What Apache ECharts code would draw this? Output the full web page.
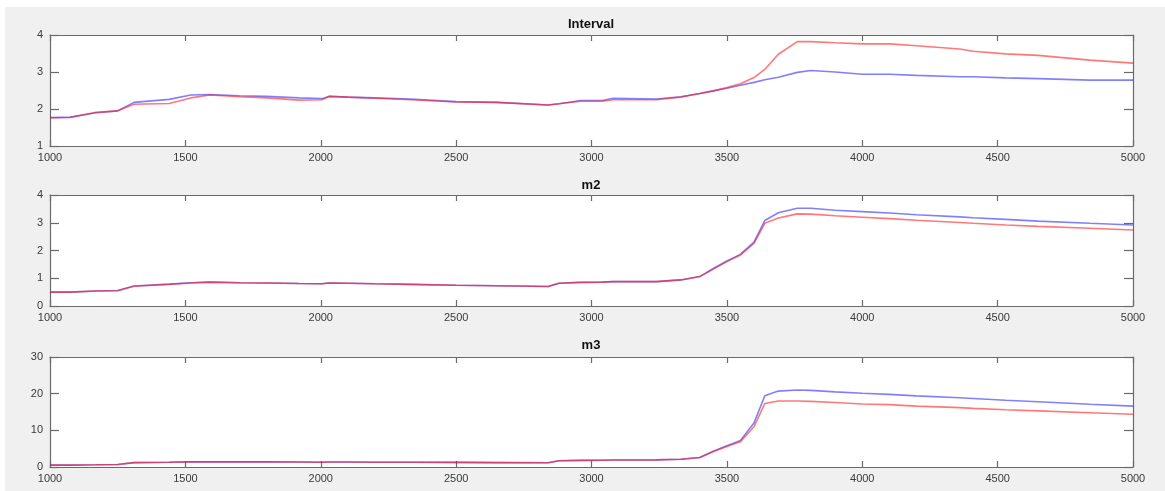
<!DOCTYPE html>
<html>
<head>
<meta charset="utf-8">
<script src="https://cdn.jsdelivr.net/npm/echarts@6/dist/echarts.min.js"></script>
<style>
html,body{margin:0;padding:0;background:#fff;width:1165px;height:491px;overflow:hidden;}
#c{position:absolute;left:5px;top:7px;width:1160px;height:484px;background:#f0f0f0;}
</style>
</head>
<body>
<div id="c"></div>
<script>
const xs = [1000,1075,1170,1250,1310,1440,1520,1590,1700,1800,1920,2005,2030,2100,2200,2330,2500,2650,2840,2880,2960,3040,3080,3240,3330,3400,3450,3500,3550,3600,3640,3690,3760,3810,3900,4000,4100,4200,4360,4410,4530,4650,4840,5000];

const intervalBlue = [1.77,1.78,1.90,1.95,2.18,2.26,2.38,2.39,2.36,2.34,2.30,2.28,2.34,2.32,2.30,2.27,2.20,2.18,2.11,2.14,2.23,2.23,2.29,2.27,2.33,2.42,2.49,2.56,2.64,2.72,2.79,2.86,2.99,3.04,3.00,2.94,2.94,2.91,2.87,2.87,2.84,2.82,2.78,2.78];
const intervalRed  = [1.76,1.77,1.91,1.95,2.13,2.15,2.30,2.38,2.33,2.30,2.24,2.25,2.34,2.32,2.29,2.25,2.19,2.18,2.11,2.14,2.21,2.21,2.25,2.25,2.32,2.42,2.49,2.58,2.68,2.85,3.07,3.48,3.82,3.82,3.79,3.76,3.76,3.71,3.62,3.56,3.49,3.45,3.32,3.24];

const m2Blue = [0.50,0.50,0.54,0.56,0.72,0.79,0.84,0.86,0.84,0.83,0.81,0.80,0.83,0.82,0.80,0.78,0.75,0.73,0.70,0.82,0.85,0.86,0.88,0.88,0.94,1.06,1.35,1.62,1.86,2.30,3.08,3.36,3.52,3.52,3.45,3.40,3.35,3.29,3.21,3.18,3.12,3.06,2.98,2.92];
const m2Red  = [0.50,0.50,0.54,0.55,0.71,0.78,0.83,0.86,0.84,0.83,0.81,0.80,0.83,0.82,0.80,0.78,0.75,0.73,0.70,0.82,0.85,0.86,0.88,0.88,0.94,1.06,1.33,1.60,1.84,2.26,2.98,3.17,3.32,3.31,3.25,3.20,3.15,3.09,3.01,2.98,2.92,2.87,2.80,2.74];

const m3Blue = [0.5,0.5,0.6,0.7,1.2,1.3,1.4,1.4,1.4,1.4,1.35,1.3,1.35,1.35,1.3,1.3,1.25,1.2,1.15,1.7,1.8,1.85,1.9,1.95,2.1,2.6,4.3,5.8,7.2,12.0,19.4,20.7,21.0,20.9,20.5,20.1,19.8,19.4,18.9,18.7,18.2,17.8,17.1,16.6];
const m3Red  = [0.5,0.5,0.6,0.7,1.2,1.3,1.4,1.4,1.4,1.4,1.35,1.3,1.35,1.35,1.3,1.3,1.25,1.2,1.15,1.7,1.8,1.85,1.9,1.95,2.1,2.6,4.2,5.6,6.9,11.0,17.3,18.0,18.0,17.9,17.6,17.2,17.0,16.6,16.2,16.0,15.6,15.3,14.8,14.4];

const titles = ['Interval','m2','m3'];
const yRanges = [[1,4,1],[0,4,1],[0,30,10]];
const xTicks = {min:1000,max:5000,interval:500};

const panels = [
  {top:28, height:111, titleTop:11, blue:intervalBlue, red:intervalRed},
  {top:188, height:111, titleTop:172, blue:m2Blue, red:m2Red},
  {top:350, height:110, titleTop:332, blue:m3Blue, red:m3Red}
];

const FONT = 'Liberation Sans, Arial, sans-serif';
const axisCol = '#6a6a6a';
const lblCol = '#3a3a3a';

const grid=[], xAxis=[], yAxis=[], series=[], title=[];
panels.forEach((p,i)=>{
  grid.push({left:45, width:1083, top:p.top, height:p.height, show:true, backgroundColor:'#fff', borderWidth:0, containLabel:false});
  title.push({text:titles[i], left:586, top:p.titleTop, textAlign:'center', padding:0,
    textStyle:{fontFamily:FONT, fontSize:13, fontWeight:'bold', color:'#111'}});
  const xb = {type:'value', gridIndex:i, min:xTicks.min, max:xTicks.max, interval:xTicks.interval,
    axisLine:{show:true, onZero:false, lineStyle:{color:axisCol, width:1.2}},
    axisTick:{show:true, inside:true, length:6, lineStyle:{color:axisCol, width:1.2}},
    splitLine:{show:false}};
  xAxis.push(Object.assign({}, xb, {position:'bottom',
    axisLabel:{show:true, margin:6, fontFamily:FONT, fontSize:11, color:lblCol,
      showMinLabel:true, showMaxLabel:true, formatter:(v)=>String(v)}}));
  xAxis.push(Object.assign({}, xb, {position:'top', axisLabel:{show:false}}));
  const r = yRanges[i];
  const yb = {type:'value', gridIndex:i, min:r[0], max:r[1], interval:r[2],
    axisLine:{show:true, onZero:false, lineStyle:{color:axisCol, width:1.2}},
    axisTick:{show:true, inside:true, length:9, lineStyle:{color:axisCol, width:1.2}},
    splitLine:{show:false}};
  yAxis.push(Object.assign({}, yb, {position:'left',
    axisLabel:{show:true, margin:7, fontFamily:FONT, fontSize:11, color:lblCol,
      showMinLabel:true, showMaxLabel:true, formatter:(v)=>String(v)}}));
  yAxis.push(Object.assign({}, yb, {position:'right', axisLabel:{show:false}}));
  const mk = (arr,color)=>({type:'line', xAxisIndex:2*i, yAxisIndex:2*i,
    data: xs.map((x,k)=>[x,arr[k]]), showSymbol:false, symbol:'none', animation:false,
    lineStyle:{color:color, width:1.6}, itemStyle:{color:color}});
  series.push(mk(p.blue,'rgba(50,50,255,0.62)'));
  series.push(mk(p.red,'rgba(255,30,30,0.6)'));
});

const chart = echarts.init(document.getElementById('c'), null, {renderer:'canvas'});
chart.setOption({animation:false, backgroundColor:'#f0f0f0', title, grid, xAxis, yAxis, series});
</script>
</body>
</html>
